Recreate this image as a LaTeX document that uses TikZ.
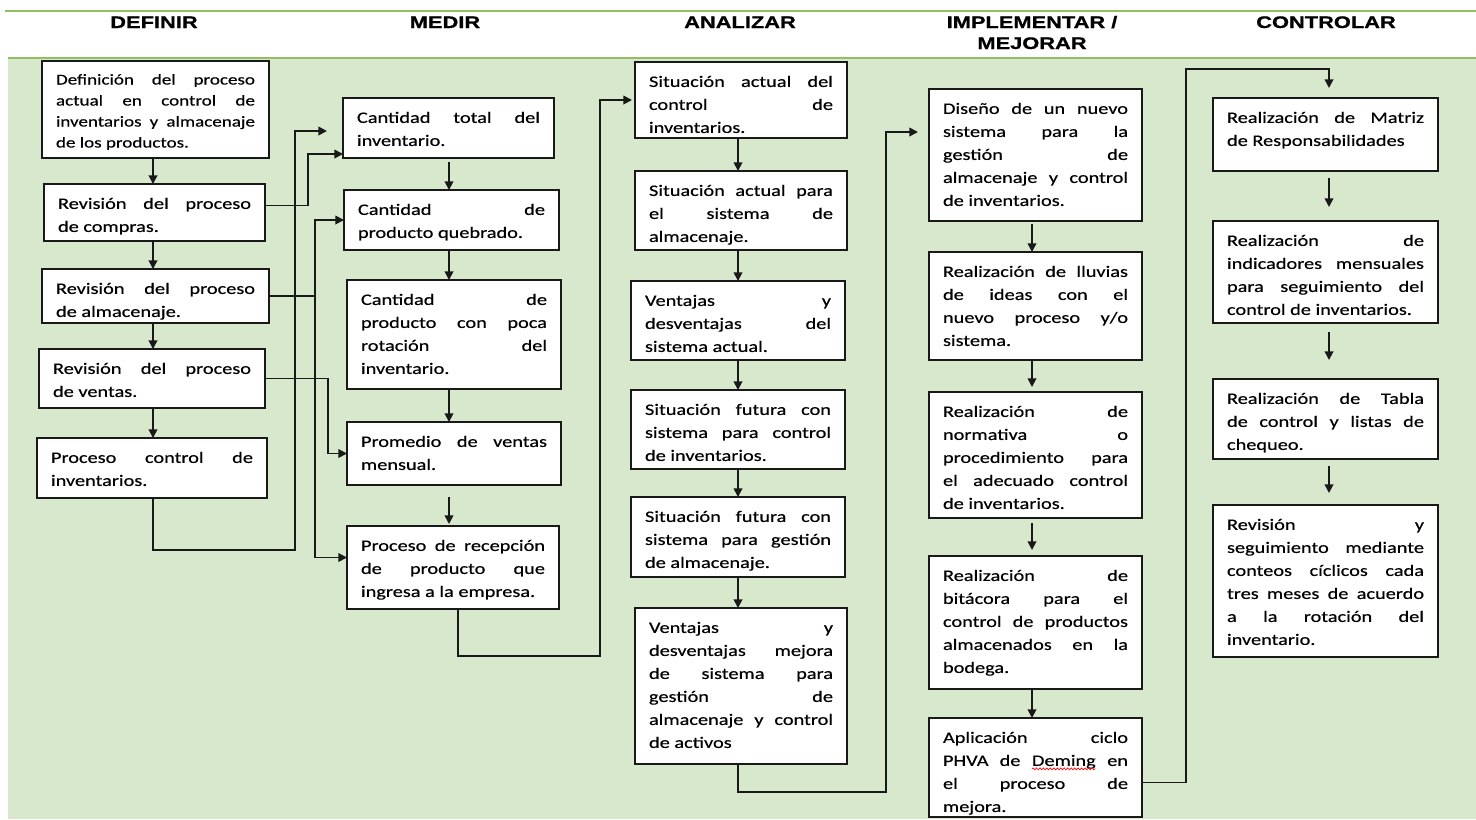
\documentclass[tikz,border=0pt]{standalone}
\usepackage{fontspec}
\usetikzlibrary{arrows.meta,decorations.pathmorphing}
\newfontfamily\bodyfont{Carlito}[FakeStretch=1.27,FakeBold=0.4]
\newfontfamily\headfont{Liberation Sans}[FakeStretch=1.3,BoldFeatures={FakeBold=0.8}]
\definecolor{bandgreen}{RGB}{216,232,204}
\definecolor{rulegreen}{RGB}{146,192,96}

% one justified line / one ragged last line of a box text
\newcommand\justline[1]{\hbox to\hsize{\strut#1}}
\newcommand\lastline[1]{\hbox{\strut#1}}
% word marked by the spell checker
\newcommand\spellmark[1]{\tikz[baseline=(sw.base)]{\node[inner sep=0pt,outer sep=0pt] (sw) {#1};
  \draw[red,line width=0.5pt,decorate,decoration={snake,amplitude=0.7pt,segment length=2.6pt}]
    ([yshift=-2.2pt]sw.base west) -- ([yshift=-2.2pt]sw.base east);}}

\tikzset{
  procbox/.style={draw=black!90, fill=white, line width=1.3pt, inner xsep=10.5pt,
    inner ysep=6.6pt, outer sep=0pt, text=black,
    font=\bodyfont\fontsize{12}{17.25}\selectfont},
  heading/.style={font=\headfont\bfseries\fontsize{12.6}{16.5}\selectfont,
    inner sep=0pt, anchor=base, text=black},
  wire/.style={draw=black!90, line width=1.3pt},
  arr/.style={wire, -{Triangle[length=6.5pt,width=6.5pt]}},
}

% box given by its corners in pixels: name, x1, y1, x2, y2, lines
\newcommand\procnode[6]{%
  \pgfmathsetlengthmacro\fbW{(#4-#2)*0.75pt-21pt}%
  \pgfmathsetlengthmacro\fbH{(#5-#3)*0.75pt-13.2pt}%
  \node[procbox, anchor=north west] (#1) at (#2,#3) {\parbox[c][\fbH][t]{\fbW}{#6}};%
}

\begin{document}
\begin{tikzpicture}[x=0.75pt,y=-0.75pt]
\useasboundingbox (0,0) rectangle (1476,819);

% header band and green body
\fill[bandgreen] (8,58) rectangle (1476,819);
\draw[rulegreen, line width=1.5pt] (5,11) -- (1476,11);
\draw[rulegreen, line width=1.5pt] (8,57.5) -- (1476,57.5);

\node[heading] (hdef) at (154,28) {DEFINIR};
\node[heading] (hmed) at (445,28) {MEDIR};
\node[heading] (hana) at (740,28) {ANALIZAR};
\node[heading] (himp) at (1032,28) {IMPLEMENTAR /};
\node[heading] (hmej) at (1032,49) {MEJORAR};
\node[heading] (hcon) at (1326,28) {CONTROLAR};

% DEFINIR
\procnode{d1}{42}{61}{269}{158}{\fontsize{11.25}{15.75}\selectfont
  \justline{Definición del proceso}\justline{actual en control de}%
  \justline{inventarios y almacenaje}\lastline{de los productos.}}
\procnode{d2}{44}{184}{265}{241}{\justline{Revisión del proceso}\lastline{de compras.}}
\procnode{d3}{42}{269}{269}{323}{\justline{Revisión del proceso}\lastline{de almacenaje.}}
\procnode{d4}{39}{349}{265}{408}{\justline{Revisión del proceso}\lastline{de ventas.}}
\procnode{d5}{37}{438}{267}{498}{\justline{Proceso control de}\lastline{inventarios.}}

% MEDIR
\procnode{m1}{343}{98}{554}{158}{\justline{Cantidad total del}\lastline{inventario.}}
\procnode{m2}{344}{190}{559}{250}{\justline{Cantidad de}\lastline{producto quebrado.}}
\procnode{m3}{347}{280}{561}{389}{\justline{Cantidad de}\justline{producto con poca}%
  \justline{rotación del}\lastline{inventario.}}
\procnode{m4}{347}{422}{561}{485}{\justline{Promedio de ventas}\lastline{mensual.}}
\procnode{m5}{347}{526}{559}{609}{\justline{Proceso de recepción}\justline{de producto que}%
  \lastline{ingresa a la empresa.}}

% ANALIZAR
\procnode{a1}{635}{62}{847}{138}{\justline{Situación actual del}\justline{control de}\lastline{inventarios.}}
\procnode{a2}{635}{171}{847}{250}{\justline{Situación actual para}\justline{el sistema de}\lastline{almacenaje.}}
\procnode{a3}{631}{281}{845}{360}{\justline{Ventajas y}\justline{desventajas del}\lastline{sistema actual.}}
\procnode{a4}{631}{390}{845}{469}{\justline{Situación futura con}\justline{sistema para control}\lastline{de inventarios.}}
\procnode{a5}{631}{497}{845}{577}{\justline{Situación futura con}\justline{sistema para gestión}\lastline{de almacenaje.}}
\procnode{a6}{635}{608}{847}{764}{\justline{Ventajas y}\justline{desventajas mejora}%
  \justline{de sistema para}\justline{gestión de}\justline{almacenaje y control}\lastline{de activos}}

% IMPLEMENTAR / MEJORAR
\procnode{i1}{929}{89}{1142}{221}{\justline{Diseño de un nuevo}\justline{sistema para la}%
  \justline{gestión de}\justline{almacenaje y control}\lastline{de inventarios.}}
\procnode{i2}{929}{252}{1142}{360}{\justline{Realización de lluvias}\justline{de ideas con el}%
  \justline{nuevo proceso y/o}\lastline{sistema.}}
\procnode{i3}{929}{392}{1142}{518}{\justline{Realización de}\justline{normativa o}%
  \justline{procedimiento para}\justline{el adecuado control}\lastline{de inventarios.}}
\procnode{i4}{929}{556}{1142}{689}{\justline{Realización de}\justline{bitácora para el}%
  \justline{control de productos}\justline{almacenados en la}\lastline{bodega.}}
\procnode{i5}{929}{718}{1142}{817}{\justline{Aplicación ciclo}\justline{PHVA de \spellmark{Deming} en}%
  \justline{el proceso de}\lastline{mejora.}}

% CONTROLAR
\procnode{c1}{1213}{98}{1438}{171}{\justline{Realización de Matriz}\lastline{de Responsabilidades}}
\procnode{c2}{1213}{221}{1438}{323}{\justline{Realización de}\justline{indicadores mensuales}%
  \justline{para seguimiento del}\lastline{control de inventarios.}}
\procnode{c3}{1213}{379}{1438}{459}{\justline{Realización de Tabla}\justline{de control y listas de}\lastline{chequeo.}}
\procnode{c4}{1213}{505}{1438}{657}{\justline{Revisión y}\justline{seguimiento mediante}%
  \justline{conteos cíclicos cada}\justline{tres meses de acuerdo}\justline{a la rotación del}%
  \lastline{inventario.}}

% column axes for the vertical arrows
\coordinate (dx) at (153,0);
\coordinate (mx) at (449,0);
\coordinate (ax) at (738,0);
\coordinate (ix) at (1032,0);
\coordinate (cx) at (1329,0);

\draw[arr] (d1.south -| dx) -- (d2.north -| dx);
\draw[arr] (d2.south -| dx) -- (d3.north -| dx);
\draw[arr] (d3.south -| dx) -- (d4.north -| dx);
\draw[arr] (d4.south -| dx) -- (d5.north -| dx);

\draw[arr, shorten <=3pt] (m1.south -| mx) -- (m2.north -| mx);
\draw[arr] (m2.south -| mx) -- (m3.north -| mx);
\draw[arr] (m3.south -| mx) -- (m4.north -| mx);
\draw[arr, shorten <=9pt, shorten >=1.5pt] (m4.south -| mx) -- (m5.north -| mx);

\draw[arr] (a1.south -| ax) -- (a2.north -| ax);
\draw[arr] (a2.south -| ax) -- (a3.north -| ax);
\draw[arr] (a3.south -| ax) -- (a4.north -| ax);
\draw[arr] (a4.south -| ax) -- (a5.north -| ax);
\draw[arr] (a5.south -| ax) -- (a6.north -| ax);

\draw[arr, shorten <=2pt] (i1.south -| ix) -- (i2.north -| ix);
\draw[arr, shorten >=3.75pt] (i2.south -| ix) -- (i3.north -| ix);
\draw[arr, shorten <=3.75pt, shorten >=4.5pt] (i3.south -| ix) -- (i4.north -| ix);
\draw[arr] (i4.south -| ix) -- (i5.north -| ix);

\draw[arr, shorten <=5.25pt, shorten >=10.5pt] (c1.south -| cx) -- (c2.north -| cx);
\draw[arr, shorten <=6.75pt, shorten >=14.25pt] (c2.south -| cx) -- (c3.north -| cx);
\draw[arr, shorten <=5.25pt, shorten >=9pt] (c3.south -| cx) -- (c4.north -| cx);

% DEFINIR -> MEDIR
\coordinate (jA) at (295,550);
\coordinate (m1top) at ([yshift=-2.25pt]m1.west);
\draw[arr, shorten >=12pt] (d5.south -| dx) |- (jA) |- (m1top);

\coordinate (jB) at (308,0);
\coordinate (d2out) at ([yshift=5.25pt]d2.east);
\coordinate (m1in) at ([yshift=-19.5pt]m1.west);
\draw[arr] (d2out) -| (jB |- m1in) -- (m1in);

\coordinate (jC) at (315,0);
\coordinate (m5in) at ([yshift=7.5pt]m5.west);
\draw[wire] (d3.east) -- (d3.east -| jC);
\draw[arr] (d3.east -| jC) |- (m2.west);
\draw[arr] (d3.east -| jC) |- (m5in);

\coordinate (jD) at (328,0);
\draw[arr] (d4.east) -| (jD |- m4.west) -- (m4.west);

% MEDIR -> ANALIZAR
\coordinate (ex) at (458,0);
\coordinate (jE) at (600,656);
\draw[arr, shorten >=2.25pt] (m5.south -| ex) |- (jE) |- (a1.west);

% ANALIZAR -> IMPLEMENTAR
\coordinate (jF) at (886,792);
\coordinate (i1in) at ([yshift=17.25pt]i1.west);
\draw[arr, shorten >=8.25pt] (a6.south -| ax) |- (jF) |- (i1in);

% IMPLEMENTAR -> CONTROLAR
\coordinate (jG) at (1186,69);
\coordinate (i5out) at ([yshift=-11.25pt]i5.east);
\draw[arr, shorten >=7.5pt] (i5out) -| (jG) -| (c1.north -| cx);
\end{tikzpicture}
\end{document}
